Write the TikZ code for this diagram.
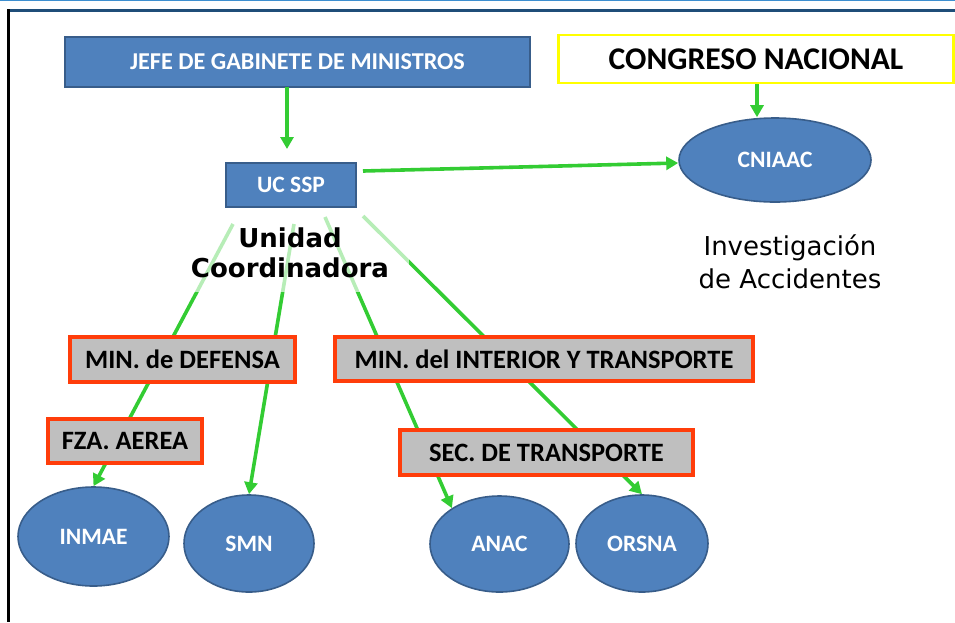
\documentclass[tikz,border=0pt]{standalone}
\usepackage{fontspec}
\setmainfont{Carlito}
\newfontfamily\verd{DejaVu Sans}
\usetikzlibrary{shapes.geometric,arrows.meta,backgrounds}
\definecolor{boxblue}{HTML}{4F81BD}
\definecolor{boxblueline}{HTML}{385D8A}
\definecolor{boxgray}{HTML}{BFBFBF}
\definecolor{boxred}{HTML}{FF3D0A}
\definecolor{arrgreen}{HTML}{33CC33}
\definecolor{topblue}{HTML}{3D8FD0}
\definecolor{navyline}{HTML}{1F4E79}
\definecolor{congborder}{HTML}{FFFF00}
\begin{document}
\begin{tikzpicture}[x=1pt,y=-1pt,
  bluebox/.style={draw=boxblueline, line width=1.6pt, fill=boxblue, text=white,
    font=\fontsize{23.5}{26}\selectfont\bfseries, inner sep=0pt},
  graybox/.style={draw=boxred, line width=3.6pt, fill=boxgray,
    font=\fontsize{26.5}{30}\selectfont\bfseries, inner sep=0pt},
  blueell/.style={ellipse, draw=boxblueline, line width=1.6pt, fill=boxblue, text=white,
    font=\fontsize{23.5}{26}\selectfont\bfseries, inner sep=0pt},
  conn/.style={draw=arrgreen, line width=3.6pt, -{Triangle[length=12pt,width=13pt]}},
  border/.style={line width=2.5pt},
]
\useasboundingbox (0,0) rectangle (955,622);
% page frame lines
\coordinate (tl) at (0,0.6);
\coordinate (tr) at (955,0.6);
\draw[topblue, line width=1.4pt] (tl) -- (tr);
\coordinate (nl) at (7,10.5);
\coordinate (nr) at (955,10.5);
\draw[navyline, line width=3pt] (nl) -- (nr);
\coordinate (bl1) at (8.3,9);
\coordinate (bl2) at (8.3,622);
\draw[black, border] (bl1) -- (bl2);

% nodes
\node[bluebox, font=\fontsize{24.2}{27}\selectfont\bfseries, minimum width=465pt, minimum height=50pt] (jefe) at (297.5,62) {JEFE DE GABINETE DE MINISTROS};
\node[draw=congborder, line width=2.4pt, fill=white, minimum width=395pt, minimum height=48pt,
  inner sep=0pt, font=\fontsize{31.6}{34}\selectfont\bfseries] (congreso) at (756,59) {CONGRESO NACIONAL};
\node[bluebox, minimum width=130pt, minimum height=44pt] (ucssp) at (291,185) {UC SSP};
\node[blueell, minimum width=192pt, minimum height=84pt] (cniaac) at (775,160) {CNIAAC};

\node[graybox, minimum width=225pt, minimum height=45pt] (mindef) at (182.5,359.5) {MIN. de DEFENSA};
\node[graybox, minimum width=154pt, minimum height=44pt] (fza) at (125,441) {FZA. AEREA};
\node[graybox, minimum width=418pt, minimum height=44pt] (minint) at (544,359) {MIN. del INTERIOR Y TRANSPORTE};
\node[graybox, minimum width=293pt, minimum height=45pt] (sec) at (546.5,452.5) {SEC. DE TRANSPORTE};

\node[blueell, minimum width=151pt, minimum height=99pt] (inmae) at (93.5,536.5) {INMAE};
\node[blueell, minimum width=130pt, minimum height=97pt] (smn) at (249,543.5) {SMN};
\node[blueell, minimum width=139pt, minimum height=96pt] (anac) at (499.5,544) {ANAC};
\node[blueell, minimum width=132pt, minimum height=97pt] (orsna) at (642,543.5) {ORSNA};

\node[font=\verd\bfseries\fontsize{26}{30}\selectfont, align=center, inner sep=0pt] (unidad) at (290,253) {Unidad\\Coordinadora};
\node[font=\verd\fontsize{26}{33}\selectfont, align=center, inner sep=0pt] (invest) at (790,262) {Investigación\\de Accidentes};

% connectors
\coordinate (j1) at (287,87);
\coordinate (j2) at (287,149);
\coordinate (s0) at (363,171);
\coordinate (s1) at (233,224);
\coordinate (s2) at (294,224);
\coordinate (s3) at (325,217);
\coordinate (s4) at (363,216);
\coordinate (c1) at (757,84);
\draw[conn] (j1) -- (j2);
\draw[conn] (s0) -- ([yshift=-3pt]cniaac.west);
\draw[conn] (c1) -- (c1 |- cniaac.north);

\begin{scope}[on background layer]
  \draw[conn] (s1) -- (inmae.north);
  \draw[conn] (s2) -- (smn.north);
  \draw[conn] (s3) -- (anac.143);
  \draw[conn] (s4) -- (orsna.north);
  \fill[white, opacity=0.65] (186,210) rectangle (409,292);
\end{scope}
\end{tikzpicture}
\end{document}
